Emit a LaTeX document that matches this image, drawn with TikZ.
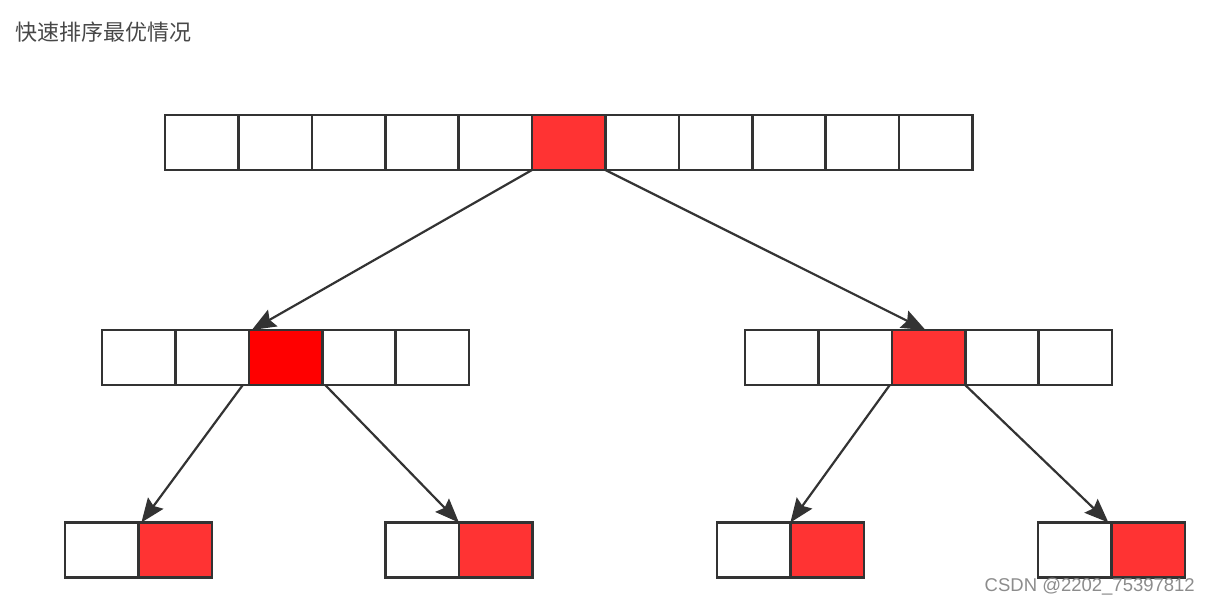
\documentclass[tikz,border=0pt]{standalone}
\usepackage{fontspec}
\newfontfamily\cjk{Noto Sans CJK SC}
\newfontfamily\wm{Liberation Sans}
\usetikzlibrary{arrows.meta}
\definecolor{edge}{HTML}{333333}
\definecolor{hot}{HTML}{FF3333}
\definecolor{pure}{HTML}{FF0000}
\tikzset{
  cell/.style={draw=edge, line width=2.6pt, minimum width=73.4pt, minimum height=55pt, inner sep=0pt, outer sep=0pt, fill=white},
  hotcell/.style={cell, fill=hot},
  conn/.style={draw=edge, line width=2.2pt, -{Stealth[length=24pt,width=19pt,inset=3.5pt]}}
}
\begin{document}
\begin{tikzpicture}[x=1pt,y=-1pt]
\useasboundingbox (0,0) rectangle (1209,605);
\node[anchor=west, text=black!72, font=\cjk\fontsize{22}{26}\selectfont, inner sep=0pt] (title) at (15,32) {快速排序最优情况};
% top row
\foreach \i in {0,...,10} {
  \ifnum\i=5
    \node[hotcell] (t\i) at ({165+36.7+73.4*\i},142.5) {};
  \else
    \node[cell] (t\i) at ({165+36.7+73.4*\i},142.5) {};
  \fi
}
% middle left
\foreach \i in {0,...,4} {
  \ifnum\i=2
    \node[cell, fill=pure] (l\i) at ({102+36.7+73.4*\i},357.5) {};
  \else
    \node[cell] (l\i) at ({102+36.7+73.4*\i},357.5) {};
  \fi
}
% middle right
\foreach \i in {0,...,4} {
  \ifnum\i=2
    \node[hotcell] (r\i) at ({745+36.7+73.4*\i},357.5) {};
  \else
    \node[cell] (r\i) at ({745+36.7+73.4*\i},357.5) {};
  \fi
}
% bottom pairs
\node[cell] (a0) at ({65+36.7},550) {};
\node[hotcell] (a1) at ({65+73.4+36.7},550) {};
\node[cell] (b0) at ({385.5+36.7},550) {};
\node[hotcell] (b1) at ({385.5+73.4+36.7},550) {};
\node[cell] (c0) at ({717+36.7},550) {};
\node[hotcell] (c1) at ({717+73.4+36.7},550) {};
\node[cell] (d0) at ({1038+36.7},550) {};
\node[hotcell] (d1) at ({1038+73.4+36.7},550) {};
% connectors
\draw[conn] (t5.south west) -- ([xshift=3pt]l2.north west);
\draw[conn] (t5.south east) -- ([xshift=-3pt]r2.north);
\draw[conn] ([xshift=-6pt]l2.south west) -- ([xshift=3pt]a1.north west);
\draw[conn] ([xshift=3pt]l2.south east) -- (b1.north west);
\draw[conn] ([xshift=-2pt]r2.south west) -- (c1.north west);
\draw[conn] (r2.south east) -- ([xshift=-3pt]d1.north west);
\node[anchor=base east, text=black!45, font=\wm\fontsize{18.5}{22}\selectfont, inner sep=0pt] (mark) at (1195,591) {CSDN @2202\_75397812};
\end{tikzpicture}
\end{document}
